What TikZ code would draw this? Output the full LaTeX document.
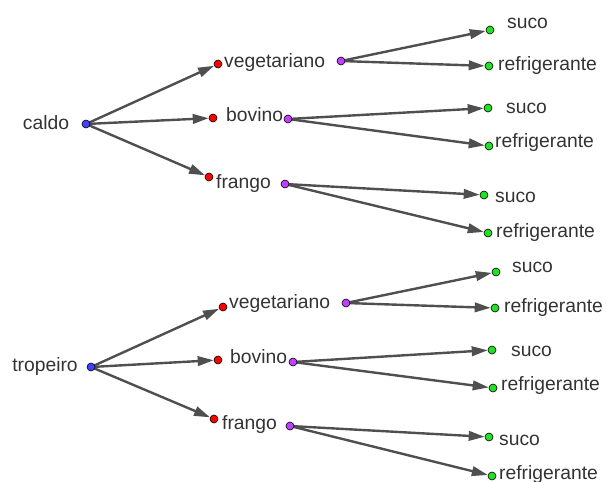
\documentclass[tikz,border=0pt]{standalone}
\usepackage{fontspec}
\setmainfont{Liberation Sans}
\usetikzlibrary{arrows.meta,backgrounds}
\definecolor{dblue}{HTML}{4040FF}
\definecolor{dred}{HTML}{FF0000}
\definecolor{dpurple}{HTML}{BF40FF}
\definecolor{dgreen}{HTML}{22E022}
\definecolor{arr}{HTML}{4F4F4F}
\definecolor{txt}{HTML}{333333}
\begin{document}
\begin{tikzpicture}[x=1pt,y=-1pt,
  dot/.style={circle,draw=black,line width=0.6pt,inner sep=0pt,minimum size=8pt},
  lbl/.style={anchor=base west,inner sep=0pt,text=txt,font=\fontsize{19.3}{22}\selectfont},
  lblc/.style={anchor=base,inner sep=0pt,text=txt,font=\fontsize{19.3}{22}\selectfont},
  edge/.style={draw=arr,line width=2.4pt,-{Triangle[length=16pt,width=9.5pt]}}]
\useasboundingbox (0,0) rectangle (606,482);
% ---------- top tree ----------
\node[dot,fill=dblue] (c0) at (86,124) {};
\node[lblc] (c0l) at (46,129) {caldo};
\node[dot,fill=dred] (rv1) at (218,64) {};
\node[dot,fill=dred] (rb1) at (213,118) {};
\node[dot,fill=dred] (rf1) at (209,177) {};
\node[lbl] (rv1l) at (224,67) {vegetariano};
\node[lbl] (rb1l) at (226,121) {bovino};
\node[lbl] (rf1l) at (216,188) {frango};
\node[dot,fill=dpurple] (pv1) at (341,61) {};
\node[dot,fill=dpurple] (pb1) at (288,119) {};
\node[dot,fill=dpurple] (pf1) at (285,184) {};
\node[dot,fill=dgreen] (s11) at (490,30) {};
\node[dot,fill=dgreen] (r11) at (489,66) {};
\node[dot,fill=dgreen] (s12) at (488,108) {};
\node[dot,fill=dgreen] (r12) at (489,146) {};
\node[dot,fill=dgreen] (s13) at (484,195) {};
\node[dot,fill=dgreen] (r13) at (488,233) {};
\node[lbl] (s11l) at (507,28) {suco};
\node[lbl] (r11l) at (498,70) {refrigerante};
\node[lbl] (s12l) at (506,113) {suco};
\node[lbl] (r12l) at (495,147) {refrigerante};
\node[lbl] (s13l) at (495,202) {suco};
\node[lbl] (r13l) at (496,237) {refrigerante};
% ---------- bottom tree ----------
\node[dot,fill=dblue] (t0) at (91,367) {};
\node[lblc] (t0l) at (45,371) {tropeiro};
\node[dot,fill=dred] (rv2) at (223,307) {};
\node[dot,fill=dred] (rb2) at (218,360) {};
\node[dot,fill=dred] (rf2) at (214,419) {};
\node[lbl] (rv2l) at (229,308) {vegetariano};
\node[lbl] (rb2l) at (230,363) {bovino};
\node[lbl] (rf2l) at (222,429) {frango};
\node[dot,fill=dpurple] (pv2) at (346,303) {};
\node[dot,fill=dpurple] (pb2) at (293,362) {};
\node[dot,fill=dpurple] (pf2) at (290,426) {};
\node[dot,fill=dgreen] (s21) at (496,272) {};
\node[dot,fill=dgreen] (r21) at (495,308) {};
\node[dot,fill=dgreen] (s22) at (492,350) {};
\node[dot,fill=dgreen] (r22) at (493,388) {};
\node[dot,fill=dgreen] (s23) at (489,437) {};
\node[dot,fill=dgreen] (r23) at (492,476) {};
\node[lbl] (s21l) at (512,272) {suco};
\node[lbl] (r21l) at (504,312) {refrigerante};
\node[lbl] (s22l) at (511,356) {suco};
\node[lbl] (r22l) at (501,390) {refrigerante};
\node[lbl] (s23l) at (499,445) {suco};
\node[lbl] (r23l) at (499,479) {refrigerante};
% ---------- arrows ----------
\begin{scope}[on background layer]
\foreach \a/\b in {c0/rv1,c0/rb1,c0/rf1,pv1/s11,pv1/r11,pb1/s12,pb1/r12,pf1/s13,pf1/r13,
                   t0/rv2,t0/rb2,t0/rf2,pv2/s21,pv2/r21,pb2/s22,pb2/r22,pf2/s23,pf2/r23}
  \path[edge] (\a.center) -- (\b);
\end{scope}
\end{tikzpicture}
\end{document}
